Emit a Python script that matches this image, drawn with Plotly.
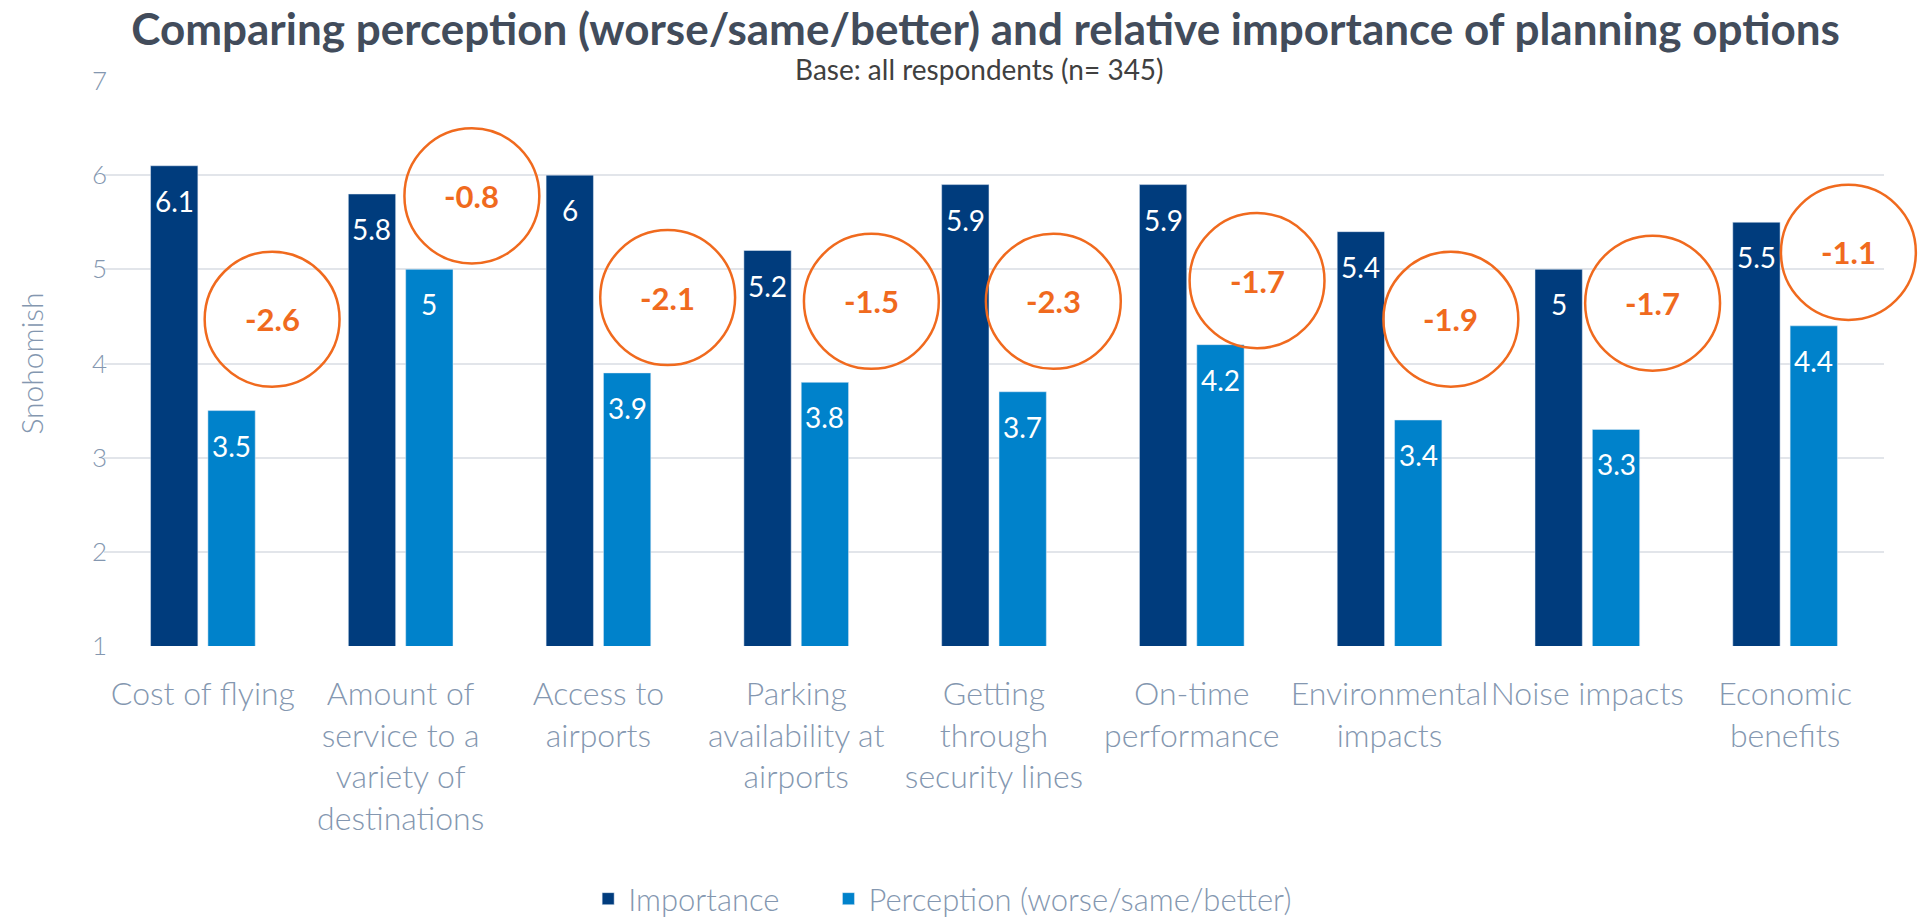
import plotly.graph_objects as go

categories = [
    "Cost of flying",
    "Amount of<br>service to a<br>variety of<br>destinations",
    "Access to<br>airports",
    "Parking<br>availability at<br>airports",
    "Getting<br>through<br>security lines",
    "On-time<br>performance",
    "Environmental<br>impacts",
    "Noise impacts",
    "Economic<br>benefits",
]
importance = [6.1, 5.8, 6.0, 5.2, 5.9, 5.9, 5.4, 5.0, 5.5]
perception = [3.5, 5.0, 3.9, 3.8, 3.7, 4.2, 3.4, 3.3, 4.4]
gap_labels = ["-2.6", "-0.8", "-2.1", "-1.5", "-2.3", "-1.7", "-1.9", "-1.7", "-1.1"]
y_ticks = [1, 2, 3, 4, 5, 6, 7]

# callout circle placement (layout, not data)
circle_dx = [0.35, 0.36, 0.35, 0.38, 0.30, 0.33, 0.31, 0.33, 0.32]
circle_y = [4.47, 5.78, 4.70, 4.66, 4.66, 4.88, 4.47, 4.64, 5.18]
RX, RY = 0.341, 0.717

X_RANGE = [-0.5, len(categories) - 0.5]
Y_RANGE = [1, 7]

BARGAP = 0.42
BARGROUPGAP = 0.175
BAR_OFF = (1 - BARGAP) / 4  # centre offset of each bar inside its group

DARK = "#003C7D"
LIGHT = "#0082CB"
ORANGE = "#F06A1E"
GREY = "#8497B0"
FONT = "Lato"


def to_paper_x(v):
    return (v - X_RANGE[0]) / (X_RANGE[1] - X_RANGE[0])


def to_paper_y(v):
    return (v - Y_RANGE[0]) / (Y_RANGE[1] - Y_RANGE[0])


fig = go.Figure()
fig.add_trace(go.Bar(name="Importance", x=categories, y=importance, marker_color=DARK,
                     legend="legend"))
fig.add_trace(go.Bar(name="Perception (worse/same/better)", x=categories, y=perception,
                     marker_color=LIGHT, legend="legend2"))

# value labels inside the top of each bar
for series, sign in ((importance, -1), (perception, 1)):
    for i, v in enumerate(series):
        fig.add_annotation(x=i + sign * BAR_OFF, y=v, xref="x", yref="y", text=f"{v:g}",
                           showarrow=False, yanchor="middle", yshift=-35,
                           font=dict(color="white", size=28, family=FONT))

# orange callout circles (paper-referenced so they may overflow the plot area)
for i, lab in enumerate(gap_labels):
    cx = i + circle_dx[i]
    cy = circle_y[i]
    fig.add_shape(type="circle", xref="paper", yref="paper",
                  x0=to_paper_x(cx - RX), x1=to_paper_x(cx + RX),
                  y0=to_paper_y(cy - RY), y1=to_paper_y(cy + RY),
                  line=dict(color=ORANGE, width=2.5), layer="above")
    fig.add_annotation(x=cx, y=cy, xref="x", yref="y", text=f"<b>{lab}</b>",
                       showarrow=False, font=dict(color=ORANGE, size=31, family=FONT))

fig.add_annotation(text="Base: all respondents (n= 345)", xref="paper", yref="paper",
                   x=0.4916, y=1.0207, xanchor="center", yanchor="middle", showarrow=False,
                   font=dict(size=28, color="#404040", family=FONT))

legend_common = dict(orientation="h", yref="container", yanchor="middle", y=1 - 899 / 922,
                     xanchor="left",
                     font=dict(size=31, color=GREY, family=FONT, weight=300),
                     itemwidth=30, bgcolor="rgba(0,0,0,0)")

fig.update_layout(
    width=1931, height=922,
    margin=dict(l=104, r=47, t=81, b=276),
    paper_bgcolor="white", plot_bgcolor="white",
    title=dict(text="<b>Comparing perception (worse/same/better) and relative importance of planning options</b>",
               x=0.5104, xanchor="center", y=1 - 30 / 922, yanchor="middle",
               font=dict(size=44, color="#424C5B", family=FONT)),
    barmode="group", bargap=BARGAP, bargroupgap=BARGROUPGAP,
    font=dict(family=FONT, color=GREY),
    legend=dict(x=0.272, **legend_common),
    legend2=dict(x=0.407, **legend_common),
    showlegend=True,
)
fig.update_yaxes(range=Y_RANGE, tickvals=y_ticks, showgrid=True, gridcolor="#E2E5EA", gridwidth=2,
                 zeroline=False, showline=False, ticks="", automargin=False,
                 tickfont=dict(size=26, color=GREY, family=FONT, weight=300),
                 ticklabelstandoff=-4,
                 title=dict(text="Snohomish", standoff=39,
                            font=dict(size=30, color=GREY, family=FONT, weight=300)))
fig.update_xaxes(range=X_RANGE, showline=False, ticks="", showgrid=False,
                 automargin=False,
                 tickfont=dict(size=32, color=GREY, family=FONT, weight=300),
                 tickangle=0, ticklabelstandoff=26)

fig.write_html("out.html", config={"displayModeBar": False},
               post_script="document.body.style.margin='0';document.body.style.overflow='hidden';")
